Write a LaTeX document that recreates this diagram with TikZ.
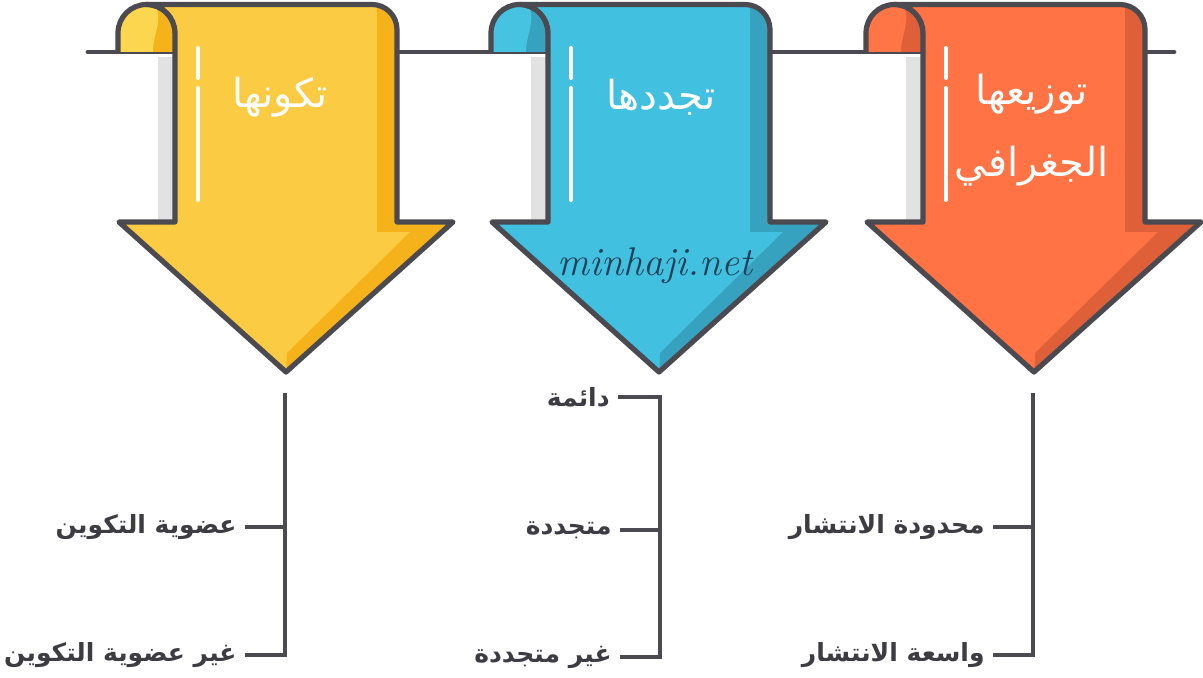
\documentclass[tikz,border=0pt]{standalone}
\usepackage{fontspec}
\newfontfamily\arabicfont[Script=Arabic]{DejaVu Sans}
\TeXXeTstate=1
\definecolor{lineC}{HTML}{4A4A50}
\definecolor{txtC}{HTML}{3C3C42}
\definecolor{greyS}{HTML}{E2E2E2}
\definecolor{yMain}{HTML}{FBCB43}
\definecolor{yDark}{HTML}{F6B21A}
\definecolor{yLight}{HTML}{FCD64F}
\definecolor{bMain}{HTML}{42C0DF}
\definecolor{bDark}{HTML}{37A2BF}
\definecolor{bLight}{HTML}{46C3E0}
\definecolor{oMain}{HTML}{FF7344}
\definecolor{oDark}{HTML}{DF6038}
\definecolor{oLight}{HTML}{FF7546}
\definecolor{wmark}{HTML}{1F4058}
\tikzset{
  outl/.style={draw=lineC, line width=2.6pt, line join=round},
  conn/.style={draw=lineC, line width=2.4pt, line join=miter},
  headtxt/.style={text=white, font=\arabicfont\fontsize{20}{36}\selectfont, align=center, inner sep=0pt},
  lbl/.style={text=txtC, font=\arabicfont\bfseries\fontsize{12.5}{15}\selectfont, anchor=east, inner xsep=4pt, inner ysep=0pt},
  wline/.style={draw=white, line width=2pt, line cap=round},
}
% #1 centre x, #2 main, #3 dark, #4 light
\newcommand\scrollarrow[4]{%
  \fill[greyS] ({#1-128},57) rectangle ({#1-111},222);
  % curl
  \fill[#3] ({#1-168},52) -- ({#1-168},33) arc[start angle=180,end angle=0,radius=14.25pt] -- ({#1-111},52) -- cycle;
  \fill[#4] ({#1-168},52) -- ({#1-168},33) arc[start angle=180,end angle=70,radius=14.25pt] to[out=-70,in=90] ({#1-133},52) -- cycle;
  \draw[outl] ({#1-168},52) -- ({#1-168},33) arc[start angle=180,end angle=0,radius=14.25pt];
  % shaft
  \fill[#2] ({#1-139.5},4.5) -- ({#1+86},4.5) arc[start angle=90,end angle=0,radius=12.5pt] -- ({#1+111},222) -- ({#1+167},222) -- (#1,372) -- ({#1-167},222) -- ({#1-111},222) -- ({#1-111},33) arc[start angle=0,end angle=90,radius=14.25pt] -- cycle;
  \begin{scope}
    \clip ({#1-139.5},4.5) -- ({#1+86},4.5) arc[start angle=90,end angle=0,radius=12.5pt] -- ({#1+111},222) -- ({#1+167},222) -- (#1,372) -- ({#1-167},222) -- ({#1-111},222) -- ({#1-111},33) arc[start angle=0,end angle=90,radius=14.25pt] -- cycle;
    \fill[#3] ({#1+91},0) -- ({#1+91},232) -- ({#1+124},232) -- ({#1+1},353) -- (#1,390) -- ({#1+200},222) -- ({#1+200},0) -- cycle;
  \end{scope}
  \draw[outl] ({#1-139.5},4.5) -- ({#1+86},4.5) arc[start angle=90,end angle=0,radius=12.5pt] -- ({#1+111},222) -- ({#1+167},222) -- (#1,372) -- ({#1-167},222) -- ({#1-111},222) -- ({#1-111},33) arc[start angle=0,end angle=90,radius=14.25pt] -- cycle;
  \draw[wline] ({#1-88},48) -- ({#1-88},78);
  \draw[wline] ({#1-88},88) -- ({#1-88},200);
}
\begin{document}
\begin{tikzpicture}[x=0.5pt,y=-0.5pt]
\useasboundingbox (0,0) rectangle (1203,678);
\fill[white] (0,0) rectangle (1203,678);
% horizontal line
\coordinate (hl) at (88,52);
\coordinate (hr) at (1174,52);
\draw[conn, line cap=round] (hl) -- (hr);
% arrows
\scrollarrow{286}{yMain}{yDark}{yLight}
\scrollarrow{659}{bMain}{bDark}{bLight}
\scrollarrow{1034}{oMain}{oDark}{oLight}
% arrow titles
\node[headtxt] (t1) at (280,97) {\arabicfont\beginR تكونها\endR};
\node[headtxt] (t2) at (661,97) {\arabicfont\beginR تجددها\endR};
\node[headtxt] (t3) at (1032,130) {\arabicfont\beginR توزيعها\endR\\\beginR الجغرافي\endR};
% watermark
\node[text=wmark, font=\itshape\fontsize{20}{22}\selectfont] (wm) at (655,266) {minhaji.net};
% yellow bracket
\coordinate (ytop) at (285,393);
\coordinate (ym) at (285,527);
\coordinate (yb) at (285,655);
\node[lbl] (y1) at (245,527) {\beginR عضوية التكوين\endR};
\node[lbl] (y2) at (245,655) {\beginR غير عضوية التكوين\endR};
\draw[conn] (ytop) -- (yb) -- (y2.east);
\draw[conn] (y1.east) -- (ym);
% blue bracket
\coordinate (btop) at (660,397);
\coordinate (bm) at (660,530);
\coordinate (bb) at (660,657);
\node[lbl] (b1) at (618,397) {\beginR دائمة\endR};
\node[lbl] (b2) at (620,530) {\beginR متجددة\endR};
\node[lbl] (b3) at (620,657) {\beginR غير متجددة\endR};
\draw[conn] (b1.east) -- (btop) -- (bb) -- (b3.east);
\draw[conn] (b2.east) -- (bm);
% orange bracket
\coordinate (otop) at (1033,393);
\coordinate (om) at (1033,527);
\coordinate (ob) at (1033,655);
\node[lbl] (o1) at (993,527) {\beginR محدودة الانتشار\endR};
\node[lbl] (o2) at (993,655) {\beginR واسعة الانتشار\endR};
\draw[conn] (otop) -- (ob) -- (o2.east);
\draw[conn] (o1.east) -- (om);
\end{tikzpicture}
\end{document}
